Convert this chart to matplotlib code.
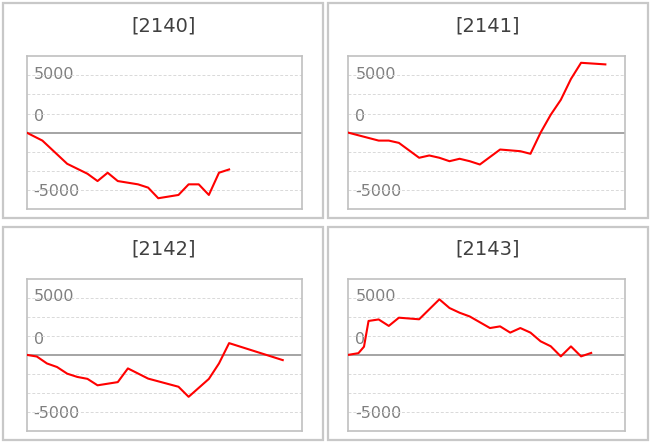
import matplotlib.pyplot as plt
from matplotlib.patches import Rectangle

# 종목코드별 누적손익 데이터
codes = ['2140', '2141', '2142', '2143']

x_2140 = [0, 1.55, 4, 6, 7, 8, 9, 11, 12, 13, 15, 16, 17, 18, 19, 20]
y_2140 = [0, -1040, -4080, -5380, -6340, -5250, -6340, -6770, -7200, -8590,
          -8160, -6770, -6770, -8160, -5250, -4820]

x_2141 = [0, 3, 4, 5, 7, 8, 9, 10, 11, 12, 13, 15, 17, 18, 19, 20, 21, 22, 23, 25.4]
y_2141 = [0, -1040, -1040, -1340, -3290, -2990, -3290, -3740, -3420, -3740,
          -4170, -2210, -2430, -2770, 0, 2340, 4300, 7030, 9150, 8940]

x_2142 = [0, 1, 2, 3, 4, 5, 6, 7, 9, 10, 12, 15, 16, 18, 19, 20, 25.3]
y_2142 = [0, -220, -1130, -1600, -2470, -2900, -3150, -4000, -3580, -1780,
          -3120, -4190, -5510, -3160, -1130, 1540, -690]

x_2143 = [0, 1, 1.55, 2, 3, 4, 5, 7, 9, 10, 11, 12, 14, 15, 16, 17, 18, 19,
          20, 21, 22, 23, 24]
y_2143 = [0, 220, 1070, 4450, 4650, 3800, 4880, 4670, 7290, 6150, 5530, 5040,
          3520, 3740, 2920, 3520, 2920, 1780, 1130, -200, 1110, -200, 250]

series = [(x_2140, y_2140), (x_2141, y_2141), (x_2142, y_2142), (x_2143, y_2143)]

# 눈금 라벨 (원본 그림 그대로)
tick_text = ['5000', '0', '-5000']
tick_pos = [7680, 2080, -7760]

W, H = 652, 444
STEP = 10.12  # px per x unit

# (패널 left, top, right, bottom), (plot left, top, right, bottom) in px
panels = [
    ((3.3, 3.3, 323.3, 218.3), (26.7, 56.3, 301.7, 209.0)),
    ((327.7, 3.3, 647.7, 218.3), (348.3, 56.3, 625.0, 209.0)),
    ((3.3, 227.0, 323.3, 440.3), (26.7, 278.7, 301.7, 431.0)),
    ((327.7, 227.0, 647.7, 440.3), (348.3, 278.7, 625.0, 431.0)),
]

plt.rcParams['font.family'] = ['DejaVu Sans']

fig = plt.figure(figsize=(W / 100, H / 100), dpi=100)
fig.set_facecolor('white')

for i, code in enumerate(codes):
    (pl, pt, pr, pb), (al, at, ar, ab) = panels[i]

    # 바깥 테두리
    fig.patches.append(Rectangle((pl / W, 1 - pb / H), (pr - pl) / W, (pb - pt) / H,
                                 transform=fig.transFigure, fill=False,
                                 edgecolor='#c8c8c8', linewidth=1.6))
    # 제목
    fig.text((pl + pr) / 2 / W, 1 - (pt + 22.2) / H, '[{}]'.format(code),
             ha='center', va='center', fontsize=14, color='#404040')

    ax = fig.add_axes([al / W, 1 - ab / H, (ar - al) / W, (ab - at) / H])
    xs, ys = series[i]
    ax.set_xlim(0, (ar - al) / STEP)
    ax.set_ylim(-10000, 10000)
    ax.set_yticks([-7500, -5000, -2500, 2500, 5000, 7500])
    ax.set_xticks([])
    ax.tick_params(axis='y', length=0, labelleft=False)
    ax.grid(axis='y', color='#d9d9d9', linestyle=(0, (3, 2)), linewidth=0.7)
    ax.axhline(0, color='#8c8c8c', linewidth=1.1, zorder=2)
    for s in ax.spines.values():
        s.set_color('#c0c0c0')
        s.set_linewidth(1.2)

    ax.plot(xs, ys, color='#ff0000', linewidth=1.5, zorder=3)

    for txt, pos in zip(tick_text, tick_pos):
        ax.text(7 / (ar - al), pos, txt, transform=ax.get_yaxis_transform(),
                ha='left', va='center', fontsize=11.5, color='#7f7f7f', zorder=1)

plt.savefig('out.png', dpi=100)
